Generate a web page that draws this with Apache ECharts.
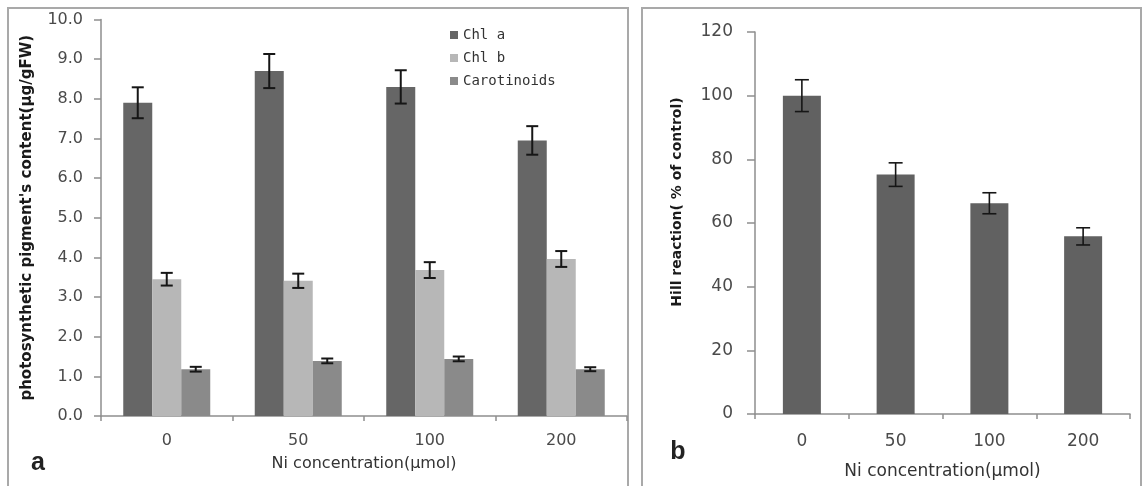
<!DOCTYPE html>
<html><head><meta charset="utf-8">
<script src="https://cdn.jsdelivr.net/npm/echarts@6/dist/echarts.min.js"></script>
<style>html,body{margin:0;padding:0;background:#fff}#c{width:1143px;height:486px}</style>
</head><body><div id="c"></div>
<script>
// ---- data ----
const categories = ['0', '50', '100', '200'];
const seriesNames = ['Chl a', 'Chl b', 'Carotinoids'];
const chlA = [7.9, 8.7, 8.3, 6.95];
const chlAErr = [0.39, 0.43, 0.42, 0.36];
const chlB = [3.45, 3.41, 3.68, 3.96];
const chlBErr = [0.16, 0.18, 0.2, 0.2];
const carot = [1.18, 1.39, 1.44, 1.18];
const carotErr = [0.06, 0.06, 0.06, 0.05];
const hill = [100, 75.2, 66.2, 55.8];
const hillErr = [5, 3.7, 3.3, 2.7];
const leftYTitle = "photosynthetic pigment's content(µg/gFW)";
const rightYTitle = 'Hill reaction( % of control)';
const xTitle = 'Ni concentration(µmol)';

// ---- style ----
const axisGray = '#8e8e8e';
const labelGray = '#4a4a4a';
const barW = 29;

function errSeries(name, xi, yi, vals, errs, offset, capHalf, lw) {
  return {
    type: 'custom', name: name, xAxisIndex: xi, yAxisIndex: yi, silent: true, z: 10,
    data: vals.map((v, i) => [i, v - errs[i], v + errs[i]]),
    encode: { x: 0, y: [1, 2] },
    renderItem: function (params, api) {
      const lo = api.coord([api.value(0), api.value(1)]);
      const hi = api.coord([api.value(0), api.value(2)]);
      const x = lo[0] + offset;
      const s = { stroke: '#161616', lineWidth: lw };
      return { type: 'group', children: [
        { type: 'line', shape: { x1: x, y1: lo[1], x2: x, y2: hi[1] }, style: s },
        { type: 'line', shape: { x1: x - capHalf, y1: lo[1], x2: x + capHalf, y2: lo[1] }, style: s },
        { type: 'line', shape: { x1: x - capHalf, y1: hi[1], x2: x + capHalf, y2: hi[1] }, style: s }
      ]};
    }
  };
}

function xAxisCfg(gi, margin, gap, fs) {
  return {
    type: 'category', gridIndex: gi, data: categories,
    axisLine: { lineStyle: { color: axisGray, width: 1.5 } },
    axisTick: { show: true, length: 5, lineStyle: { color: axisGray, width: 1.5 } },
    axisLabel: { margin: margin, color: labelGray, fontSize: fs, fontFamily: 'DejaVu Sans' },
    name: xTitle, nameLocation: 'middle', nameGap: gap,
    nameTextStyle: { color: '#333', fontSize: fs, fontFamily: 'DejaVu Sans' }
  };
}

const chart = echarts.init(document.getElementById('c'), null, { renderer: 'canvas' });
chart.setOption({
  animation: false,
  backgroundColor: '#fff',
  grid: [
    { left: 101, top: 19.5, right: 516, bottom: 70 },
    { left: 755, top: 32, right: 13, bottom: 72 }
  ],
  legend: {
    data: seriesNames, orient: 'vertical', left: 445, top: 23,
    itemWidth: 8, itemHeight: 8, itemGap: 9, icon: 'rect',
    textStyle: { fontFamily: 'DejaVu Sans Mono', fontSize: 14, color: '#333' }
  },
  xAxis: [xAxisCfg(0, 17, 40, 16), xAxisCfg(1, 19, 49, 17)],
  yAxis: [
    {
      type: 'value', gridIndex: 0, min: 0, max: 10, interval: 1,
      splitLine: { show: false },
      axisLine: { show: true, lineStyle: { color: axisGray, width: 1.5 } },
      axisTick: { show: true, length: 7, lineStyle: { color: axisGray, width: 1.5 } },
      axisLabel: { margin: 18, color: labelGray, fontSize: 16, fontFamily: 'DejaVu Sans', formatter: v => v.toFixed(1) },
      name: leftYTitle, nameLocation: 'middle', nameGap: 66,
      nameTextStyle: { color: '#1a1a1a', fontSize: 15, fontWeight: 'bold', fontFamily: 'DejaVu Sans' }
    },
    {
      type: 'value', gridIndex: 1, min: 0, max: 120, interval: 20,
      splitLine: { show: false },
      axisLine: { show: true, lineStyle: { color: axisGray, width: 1.5 } },
      axisTick: { show: true, length: 8, lineStyle: { color: axisGray, width: 1.5 } },
      axisLabel: { margin: 22, color: labelGray, fontSize: 17, fontFamily: 'DejaVu Sans' },
      name: rightYTitle, nameLocation: 'middle', nameGap: 71,
      nameTextStyle: { color: '#1a1a1a', fontSize: 14, fontWeight: 'bold', fontFamily: 'DejaVu Sans', padding: [0, 0, 0, 42] }
    }
  ],
  series: [
    { name: 'Chl a', type: 'bar', xAxisIndex: 0, yAxisIndex: 0, data: chlA, barWidth: barW, barGap: '0%', itemStyle: { color: '#666666' } },
    { name: 'Chl b', type: 'bar', xAxisIndex: 0, yAxisIndex: 0, data: chlB, barWidth: barW, barGap: '0%', itemStyle: { color: '#b7b7b7' } },
    { name: 'Carotinoids', type: 'bar', xAxisIndex: 0, yAxisIndex: 0, data: carot, barWidth: barW, barGap: '0%', itemStyle: { color: '#8a8a8a' } },
    errSeries('errA', 0, 0, chlA, chlAErr, -barW, 6, 2),
    errSeries('errB', 0, 0, chlB, chlBErr, 0, 6, 2),
    errSeries('errC', 0, 0, carot, carotErr, barW, 6, 2),
    { name: 'Hill reaction', type: 'bar', xAxisIndex: 1, yAxisIndex: 1, data: hill, barWidth: 38, itemStyle: { color: '#616161' } },
    errSeries('errH', 1, 1, hill, hillErr, 0, 7, 1.6)
  ],
  graphic: [
    { type: 'rect', shape: { x: 8, y: 8, width: 620, height: 490 }, style: { fill: 'none', stroke: '#a9a9a9', lineWidth: 2 }, z: -1 },
    { type: 'rect', shape: { x: 642, y: 8, width: 499, height: 490 }, style: { fill: 'none', stroke: '#a9a9a9', lineWidth: 2 }, z: -1 },
    { type: 'text', x: 38, y: 463, style: { text: 'a', font: 'bold 25px "Liberation Sans"', fill: '#222', align: 'center', verticalAlign: 'middle' } },
    { type: 'text', x: 678, y: 452, style: { text: 'b', font: 'bold 25px "Liberation Sans"', fill: '#222', align: 'center', verticalAlign: 'middle' } }
  ]
});
</script>
</body></html>
